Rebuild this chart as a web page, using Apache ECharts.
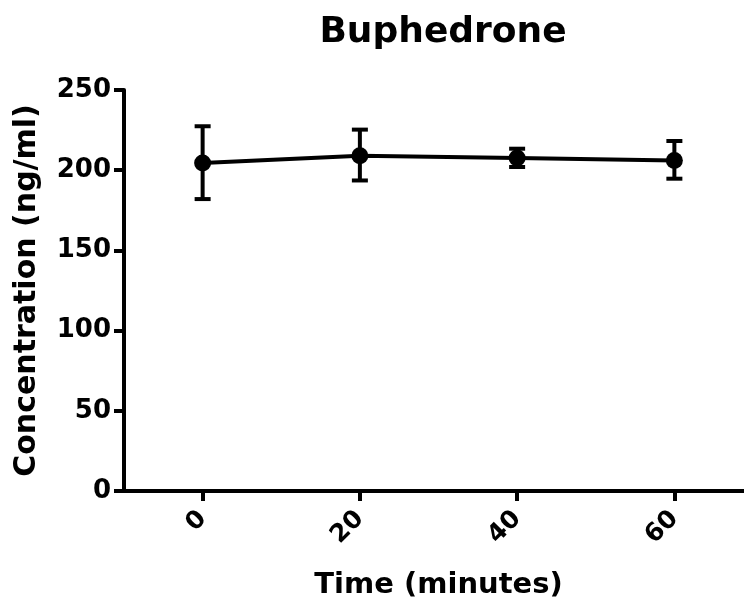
<!DOCTYPE html>
<html>
<head>
  <meta charset="UTF-8">
  <title>Buphedrone</title>
  <style>
    * { padding: 0; margin: 0; }
    html, body { width: 100%; height: 100%; background: #fff; }
    #chart { width: 744px; height: 607px; }
  </style>
  <script src="https://cdn.jsdelivr.net/npm/echarts@6/dist/echarts.min.js"></script>
</head>
<body>
  <div id="chart"></div>
  <script>
    // data
    var times = [0, 20, 40, 60];
    var means = [204.5, 209, 207.6, 206.1];
    var upper = [227.4, 225.3, 213.4, 218.2];
    var lower = [182, 193.6, 202, 194.7];
    var yTicks = [0, 50, 100, 150, 200, 250];

    var FONT = 'DejaVu Sans';
    var chart = echarts.init(document.getElementById('chart'));

    var lineData = times.map(function (t, i) { return [t, means[i]]; });
    var errData = times.map(function (t, i) { return [t, lower[i], upper[i]]; });

    var option = {
      backgroundColor: '#fff',
      animation: false,
      title: {
        text: 'Buphedrone',
        left: 438,
        top: 10,
        textAlign: 'center',
        textStyle: { fontFamily: FONT, fontWeight: 'bold', fontSize: 36, color: '#000' }
      },
      // the x axis runs past the right edge of the picture
      grid: { left: 124, top: 90, height: 401, width: 629, outerBoundsMode: 'none' },
      xAxis: {
        type: 'value',
        min: -10,
        max: 70,
        name: 'Time (minutes)',
        nameLocation: 'middle',
        nameGap: 80,
        nameTextStyle: { fontFamily: FONT, fontWeight: 'bold', fontSize: 29, color: '#000' },
        axisLine: { show: true, onZero: false, lineStyle: { color: '#000', width: 4 } },
        axisTick: { show: true, length: 10, customValues: times, lineStyle: { color: '#000', width: 4 } },
        axisLabel: {
          customValues: times,
          rotate: 45,
          margin: 24,
          fontFamily: FONT, fontWeight: 'bold', fontSize: 25, color: '#000'
        },
        splitLine: { show: false }
      },
      yAxis: {
        type: 'value',
        min: 0,
        max: 250,
        interval: 50,
        name: 'Concentration (ng/ml)',
        nameLocation: 'middle',
        nameGap: 82,
        nameTextStyle: { fontFamily: FONT, fontWeight: 'bold', fontSize: 30, color: '#000' },
        axisLine: { show: true, onZero: false, lineStyle: { color: '#000', width: 4 } },
        axisTick: { show: true, length: 10, lineStyle: { color: '#000', width: 4 } },
        axisLabel: {
          margin: 13,
          fontFamily: FONT, fontWeight: 'bold', fontSize: 26, color: '#000',
          customValues: yTicks
        },
        splitLine: { show: false }
      },
      series: [
        {
          type: 'custom',
          data: errData,
          z: 3,
          renderItem: function (params, api) {
            var x = api.value(0);
            var lo = api.coord([x, api.value(1)]);
            var hi = api.coord([x, api.value(2)]);
            var half = 8;
            var style = { stroke: '#000', lineWidth: 4 };
            return {
              type: 'group',
              children: [
                { type: 'line', shape: { x1: hi[0], y1: hi[1], x2: lo[0], y2: lo[1] }, style: style },
                { type: 'line', shape: { x1: hi[0] - half, y1: hi[1], x2: hi[0] + half, y2: hi[1] }, style: style },
                { type: 'line', shape: { x1: lo[0] - half, y1: lo[1], x2: lo[0] + half, y2: lo[1] }, style: style }
              ]
            };
          }
        },
        {
          type: 'line',
          data: lineData,
          z: 4,
          symbol: 'circle',
          symbolSize: 17,
          itemStyle: { color: '#000' },
          lineStyle: { color: '#000', width: 4 }
        }
      ]
    };
    chart.setOption(option);
  </script>
</body>
</html>
